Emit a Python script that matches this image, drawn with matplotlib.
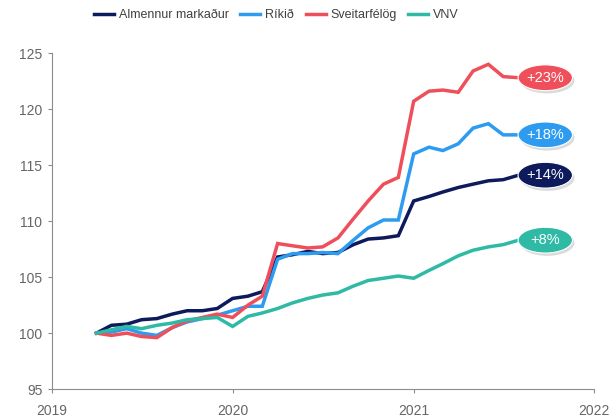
import matplotlib.pyplot as plt
import matplotlib.dates as mdates
from matplotlib.patches import Ellipse
import pandas as pd
import datetime as dt

plt.rcParams['font.family'] = ['Liberation Sans', 'DejaVu Sans']

# monthly index, April 2019 = 100
months = pd.date_range('2019-04-01', '2021-08-01', freq='MS')

almennur = [100.0, 100.7, 100.8, 101.2, 101.3, 101.7, 102.0, 102.0, 102.2, 103.1,
            103.3, 103.7, 106.8, 107.0, 107.3, 107.1, 107.2, 107.9, 108.4, 108.5,
            108.7, 111.8, 112.2, 112.6, 113.0, 113.3, 113.6, 113.7, 114.1]
rikid = [100.0, 100.1, 100.4, 100.0, 99.8, 100.5, 101.0, 101.3, 101.6, 102.0,
         102.4, 102.4, 106.6, 107.1, 107.1, 107.2, 107.1, 108.3, 109.4, 110.1,
         110.1, 116.0, 116.6, 116.3, 116.9, 118.3, 118.7, 117.7, 117.7]
sveitarfelog = [100.0, 99.8, 100.0, 99.7, 99.6, 100.5, 101.1, 101.4, 101.7, 101.4,
                102.5, 103.3, 108.0, 107.8, 107.6, 107.7, 108.5, 110.2, 111.8, 113.3,
                113.9, 120.7, 121.6, 121.7, 121.5, 123.4, 124.0, 122.9, 122.8]
vnv = [100.0, 100.3, 100.6, 100.4, 100.7, 100.9, 101.2, 101.3, 101.4, 100.6,
       101.5, 101.8, 102.2, 102.7, 103.1, 103.4, 103.6, 104.2, 104.7, 104.9,
       105.1, 104.9, 105.6, 106.2, 106.9, 107.4, 107.7, 107.9, 108.3]

names = ['Almennur markaður', 'Ríkið', 'Sveitarfélög', 'VNV']
series = [almennur, rikid, sveitarfelog, vnv]
colors = ['#0d1a5c', '#2d9cf0', '#ef4f5a', '#2fbaa5']
labels = ['+14%', '+18%', '+23%', '+8%']

fig = plt.figure(figsize=(6.12, 4.18), dpi=100)
ax = fig.add_axes([0.085, 0.069, 0.886, 0.804])

for name, vals, c in zip(names, series, colors):
    ax.plot(months, vals, color=c, linewidth=2.5, label=name, solid_joinstyle='miter')

# value bubbles at the end of each line
last = mdates.date2num(months[-1])
cx = last + 54
for vals, c, lab in zip(series, colors, labels):
    y = vals[-1]
    sh = Ellipse((cx + 4, y - 0.25), 110, 2.3, facecolor='#999999', alpha=0.35,
                 edgecolor='none', zorder=4, clip_on=False)
    ax.add_patch(sh)
    e = Ellipse((cx, y), 110, 2.3, facecolor=c, edgecolor='white', linewidth=0.8,
                zorder=5, clip_on=False)
    ax.add_patch(e)
    ax.text(cx, y, lab, color='white', fontsize=10.5, ha='center', va='center', zorder=6)

ax.set_xlim(dt.date(2019, 1, 1), dt.date(2022, 1, 1))
ax.set_ylim(95, 125)
ax.set_yticks(range(95, 126, 5))
ax.xaxis.set_major_locator(mdates.YearLocator())
ax.xaxis.set_major_formatter(mdates.DateFormatter('%Y'))

for s in ['top', 'right']:
    ax.spines[s].set_visible(False)
for s in ['left', 'bottom']:
    ax.spines[s].set_color('#8c8c8c')
    ax.spines[s].set_linewidth(0.8)
ax.tick_params(axis='both', colors='#8c8c8c', labelcolor='#666666', labelsize=10, length=3)
ax.tick_params(axis='y', pad=4)
ax.tick_params(axis='x', pad=8)

fig.legend(loc='upper center', bbox_to_anchor=(0.452, 1.005), ncol=4, frameon=False,
           fontsize=9, handlelength=1.6, handletextpad=0.4, columnspacing=0.9,
           labelcolor='#404040')

fig.savefig('out.png', dpi=100)
